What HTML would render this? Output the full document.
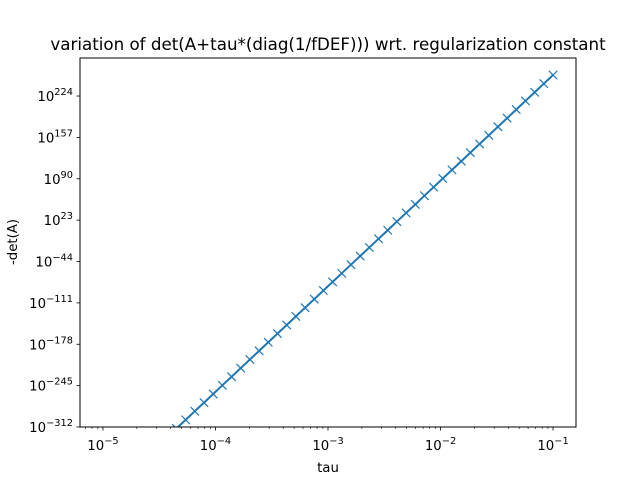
<!DOCTYPE html>
<html><head><meta charset="utf-8"><style>
html,body{margin:0;padding:0;background:#fff;}
svg{display:block;font-family:"DejaVu Sans","Liberation Sans",sans-serif;}
</style></head><body>
<svg id="chart" width="640" height="480" viewBox="0 0 640 480" xmlns="http://www.w3.org/2000/svg">
<defs><clipPath id="clip"><rect x="80" y="58" width="496" height="369"/></clipPath></defs>
<rect x="0" y="0" width="640" height="480" fill="#fff"/>
<text x="328" y="50" text-anchor="middle" font-size="16.7" fill="#000">variation of det(A+tau*(diag(1/fDEF))) wrt. regularization constant</text>
<g id="xticks"></g>
<g id="yticks"></g>
<g id="series" clip-path="url(#clip)"></g>
<rect x="80" y="58" width="496" height="369" fill="none" stroke="#000" stroke-width="1"/>
<text x="328" y="472" text-anchor="middle" font-size="13.3">tau</text>
<text transform="translate(17,242) rotate(-90)" text-anchor="middle" font-size="13.3">-det(A)</text>
</svg>
<script>
// log10(tau) for np.logspace(-5,-1,50)
const tauLog = [-5.000,-4.918,-4.837,-4.755,-4.673,-4.592,-4.510,-4.429,-4.347,-4.265,-4.184,-4.102,-4.020,-3.939,-3.857,-3.776,-3.694,-3.612,-3.531,-3.449,-3.367,-3.286,-3.204,-3.122,-3.041,-2.959,-2.878,-2.796,-2.714,-2.633,-2.551,-2.469,-2.388,-2.306,-2.224,-2.143,-2.061,-1.980,-1.898,-1.816,-1.735,-1.653,-1.571,-1.490,-1.408,-1.327,-1.245,-1.163,-1.082,-1.000];
// log10(-det) (null = underflow to zero)
const detLog = [null,null,null,null,null,null,null,null,-314.3,-300.4,-286.4,-272.5,-258.5,-244.5,-230.6,-216.6,-202.7,-188.7,-174.7,-160.8,-146.8,-132.9,-118.9,-104.9,-91.0,-77.0,-63.1,-49.1,-35.1,-21.2,-7.2,6.7,20.7,34.7,48.6,62.6,76.5,90.5,104.4,118.4,132.4,146.3,160.3,174.2,188.2,202.2,216.1,230.1,244.0,258.0];
const xTickExp = [-5,-4,-3,-2,-1];
const yTickExp = [-312,-245,-178,-111,-44,23,90,157,224];

const NS="http://www.w3.org/2000/svg";
const X0=80,X1=576,Y0=427,Y1=58;
const xMin=-5.204,xMax=-0.796,yMin=-312,yMax=285.6;
const sx=v=>X0+(v-xMin)/(xMax-xMin)*(X1-X0);
const sy=v=>Y0-(v-yMin)/(yMax-yMin)*(Y0-Y1);
function mk(t,a,p){const e=document.createElementNS(NS,t);for(const k in a)e.setAttribute(k,a[k]);p.appendChild(e);return e;}
const xg=document.getElementById('xticks'),yg=document.getElementById('yticks'),sg=document.getElementById('series');

xTickExp.forEach(e=>{
  const x=sx(e);
  const t=mk('line',{x1:x,x2:x,y1:Y0,y2:Y0+3.5,stroke:'#000','stroke-width':0.8},xg);
  
  
  const l=mk('text',{x:x,y:Y0+23,'text-anchor':'middle','font-size':13.3},xg);
  
  
  l.innerHTML='10<tspan dy="-6" font-size="9.8">\u2212'+Math.abs(e)+'</tspan>';
});
for(let d=-6;d<=-1;d++){for(let m=2;m<=9;m++){
  const v=d+Math.log10(m); if(v<xMin||v>xMax) continue;
  const x=sx(v);
  const t=mk('line',{x1:x,x2:x,y1:Y0,y2:Y0+2,stroke:'#000','stroke-width':0.6},xg);
  
  
}}
yTickExp.forEach(e=>{
  const y=sy(e);
  const t=mk('line',{x1:X0-3.5,x2:X0,y1:y,y2:y,stroke:'#000','stroke-width':0.8},yg);
  
  
  const l=mk('text',{x:X0-7,y:y+5,'text-anchor':'end','font-size':13.3},yg);
  
  
  l.innerHTML='10<tspan dy="-6" font-size="9.8">'+(e<0?'\u2212'+Math.abs(e):e)+'</tspan>';
});

let pts=[];
tauLog.forEach((t,i)=>{if(detLog[i]!==null)pts.push([sx(t),sy(detLog[i])]);});
const line=mk('polyline',{points:pts.map(p=>p[0].toFixed(2)+','+p[1].toFixed(2)).join(' '),fill:'none',stroke:'#1f77b4','stroke-width':2},sg);


const h=4.2;
pts.forEach(p=>{
  const m=mk('path',{d:`M${p[0]-h},${p[1]-h}L${p[0]+h},${p[1]+h}M${p[0]-h},${p[1]+h}L${p[0]+h},${p[1]-h}`,stroke:'#1f77b4','stroke-width':1.2,fill:'none'},sg);
  
  
});
</script>
</body></html>
